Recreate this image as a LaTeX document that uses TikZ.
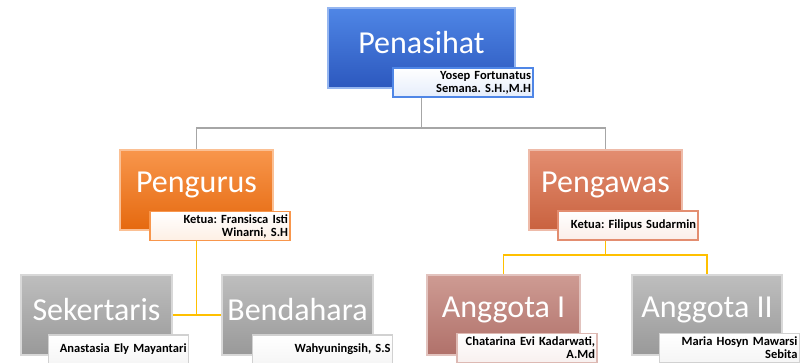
\documentclass[tikz,border=0pt]{standalone}
\usepackage{fontspec}
\setmainfont{Carlito}
\definecolor{penTop}{HTML}{4F86E6}
\definecolor{penBot}{HTML}{2C58BE}
\definecolor{orgTop}{HTML}{F8964C}
\definecolor{orgBot}{HTML}{E5690F}
\definecolor{pwsTop}{HTML}{E38D70}
\definecolor{pwsBot}{HTML}{C9623F}
\definecolor{gryTop}{HTML}{BEBEBE}
\definecolor{gryBot}{HTML}{999999}
\definecolor{agtTop}{HTML}{CE9B93}
\definecolor{agtBot}{HTML}{B0716A}
\definecolor{lineGray}{HTML}{A6A6A6}
\definecolor{lineGold}{HTML}{FFC000}
\tikzset{
  postBox/.style={rectangle, minimum height=80pt, inner sep=0pt, line width=1.5pt},
  nameBox/.style={rectangle, minimum height=29pt, text width=136pt, align=right,
    font=\frenchspacing\bfseries\fontsize{12.5}{13}\selectfont, inner xsep=2pt, inner ysep=1pt, line width=1.2pt},
}
\begin{document}
\begin{tikzpicture}[x=1pt,y=-1pt]
\useasboundingbox (0,0) rectangle (800,362);
\clip (0,0) rectangle (800,362);

      % connectors
      \coordinate (bus1) at (0,128);
      \coordinate (bus2) at (0,255);

      \begin{scope}[every node/.style={postBox}]
        \node[minimum width=187pt, top color=penTop, bottom color=penBot, draw=penTop!60!white] (pen) at (421.5,48) {};
        \node[minimum width=153pt, top color=orgTop, bottom color=orgBot, draw=orgTop!60!white] (pgr) at (196.5,190) {};
        \node[minimum width=153pt, top color=pwsTop, bottom color=pwsBot, draw=pwsTop!60!white] (pgw) at (605.5,190) {};
        \node[minimum width=151pt, top color=gryTop, bottom color=gryBot, draw=gryTop!60!white] (sek) at (96.5,315) {};
        \node[minimum width=151pt, top color=gryTop, bottom color=gryBot, draw=gryTop!60!white] (ben) at (297.5,315) {};
        \node[minimum width=153pt, top color=agtTop, bottom color=agtBot, draw=agtTop!60!white] (ag1) at (503.5,315) {};
        \node[minimum width=150pt, top color=gryTop, bottom color=gryBot, draw=gryTop!60!white] (ag2) at (707,315) {};
      \end{scope}

      \begin{scope}[line width=1.8pt]
        \draw[lineGray] (pen.south) -- (pen.south |- bus1) -| (pgr.north);
        \draw[lineGray] (pen.south |- bus1) -| (pgw.north);
        \draw[lineGold] (pgr.south) -- (pgr.south |- sek.east);
        \draw[lineGold] (sek.east) -- (ben.west);
        \draw[lineGold] (pgw.south) -- (pgw.south |- bus2) -| (ag1.north);
        \draw[lineGold] (pgw.south |- bus2) -| (ag2.north);
      \end{scope}

      \begin{scope}[every node/.style={text=white, font=\fontsize{32}{34}\selectfont}]
        \node (penText) at ([yshift=5pt]pen.center) {Penasihat};
        \node (pgrText) at ([yshift=5pt]pgr.center) {Pengurus};
        \node (pgwText) at ([yshift=5pt]pgw.center) {Pengawas};
        \node (sekText) at ([yshift=5pt]sek.center) {Sekertaris};
        \node (benText) at ([yshift=5pt]ben.center) {Bendahara};
        \node (ag1Text) at ([yshift=5pt]ag1.center) {Anggota I};
        \node (ag2Text) at ([yshift=5pt]ag2.center) {Anggota II};
      \end{scope}

      \begin{scope}[every node/.style={nameBox}]
        \node[top color=white, bottom color=penTop!15, draw=penTop] (penName) at (463,82.5) {Yosep Fortunatus\\Semana. S.H.,M.H};
        \node[top color=white, bottom color=orgTop!15, draw=orgTop] (pgrName) at (220,226) {Ketua: Fransisca Isti\\Winarni, S.H};
        \node[top color=white, bottom color=pwsTop!15, draw=pwsTop] (pgwName) at (628,225.5) {Ketua: Filipus Sudarmin};
        \node[top color=white, bottom color=gryTop!15, draw=gryTop!70!white] (sekName) at (118.5,349.5) {Anastasia Ely Mayantari};
        \node[top color=white, bottom color=gryTop!15, draw=gryTop!70!white] (benName) at (322.5,349.5) {Wahyuningsih, S.S};
        \node[top color=white, bottom color=agtTop!15, draw=agtTop!70!white] (ag1Name) at (527,348) {Chatarina Evi Kadarwati,\\A.Md};
        \node[top color=white, bottom color=gryTop!15, draw=gryTop!70!white] (ag2Name) at (729.5,348) {Maria Hosyn Mawarsi\\Sebita};
      \end{scope}

\end{tikzpicture}
\end{document}
